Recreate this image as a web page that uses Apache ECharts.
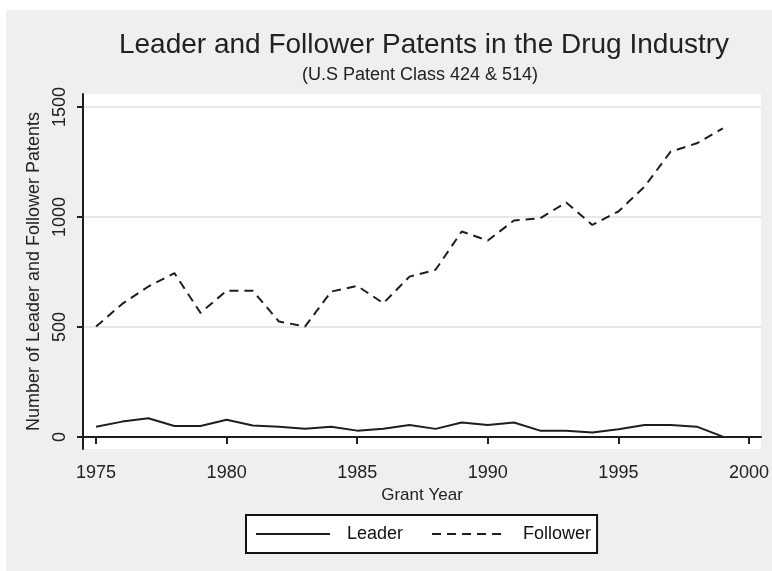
<!DOCTYPE html>
<html>
<head>
<meta charset="utf-8">
<script src="https://cdn.jsdelivr.net/npm/echarts@6/dist/echarts.min.js"></script>
<style>
    html, body { margin: 0; padding: 0; background: #fff; }
    #main { position: absolute; left: 6px; top: 10px; width: 766px; height: 561px; }
</style>
</head>
<body>
<div id="main"></div>
<script>
var years = [1975, 1976, 1977, 1978, 1979, 1980, 1981, 1982, 1983, 1984, 1985, 1986, 1987,
    1988, 1989, 1990, 1991, 1992, 1993, 1994, 1995, 1996, 1997, 1998, 1999];
var leader = [47, 70, 85, 50, 50, 78, 52, 47, 37, 47, 29, 38, 55,
    37, 66, 55, 66, 29, 29, 20, 35, 55, 55, 47, 2];
var follower = [502, 605, 684, 745, 564, 665, 665, 525, 502, 661, 687, 608, 729,
    760, 934, 893, 984, 994, 1066, 964, 1025, 1138, 1297, 1335, 1403];
var xTicks = [1975, 1980, 1985, 1990, 1995, 2000];
var yTicks = [0, 500, 1000, 1500];

(function () {
    var chart = echarts.init(document.getElementById('main'));
    var font = 'Liberation Sans';
    var ink = '#1e1e1e';

    function pairs(vals) {
        return years.map(function (y, i) { return [y, vals[i]]; });
    }
    // plain numbers, no thousands separator
    function plain(v) {
        return String(v);
    }

    var option = {
        backgroundColor: '#efefef',
        animation: false,
        graphic: [{
            type: 'text',
            x: 418,
            y: 21,
            style: {
                text: 'Leader and Follower Patents in the Drug Industry',
                font: '28px ' + font,
                fill: '#222',
                align: 'center'
            }
        }, {
            type: 'text',
            x: 414,
            y: 56,
            style: {
                text: '(U.S Patent Class 424 & 514)',
                font: '18px ' + font,
                fill: '#222',
                align: 'center'
            }
        }],
        grid: {
            left: 77,
            right: 10,
            top: 84,
            bottom: 122,
            show: true,
            backgroundColor: '#fff',
            borderWidth: 0
        },
        legend: {
            left: 240,
            top: 505,
            data: ['Leader', 'Follower'],
            backgroundColor: '#fff',
            borderColor: '#111',
            borderWidth: 2,
            padding: [10, 6, 10, 9],
            itemWidth: 74,
            itemHeight: 12,
            itemGap: 28,
            itemStyle: { opacity: 0 },
            textStyle: {
                fontFamily: font,
                fontSize: 18,
                color: '#111',
                padding: [0, 0, 0, 12]
            }
        },
        xAxis: {
            type: 'value',
            min: 1974.5,
            max: 2000.46,
            name: 'Grant Year',
            nameLocation: 'middle',
            nameGap: 32,
            nameTextStyle: { fontFamily: font, fontSize: 17, color: '#222' },
            axisLine: { lineStyle: { color: ink, width: 2 } },
            axisTick: { customValues: xTicks, length: 7, lineStyle: { color: ink, width: 2 } },
            axisLabel: {
                customValues: xTicks,
                formatter: plain,
                fontFamily: font, fontSize: 18, color: '#222', margin: 15
            },
            splitLine: { show: false }
        },
        yAxis: {
            type: 'value',
            min: -54.5,
            max: 1559,
            name: 'Number of Leader and Follower Patents',
            nameLocation: 'middle',
            nameGap: 38,
            nameTextStyle: { fontFamily: font, fontSize: 18, color: '#222' },
            axisLine: { show: true, lineStyle: { color: ink, width: 2 } },
            axisTick: { show: true, customValues: yTicks, length: 6, lineStyle: { color: ink, width: 2 } },
            axisLabel: {
                customValues: yTicks,
                formatter: plain,
                rotate: 90,
                fontFamily: font, fontSize: 18, color: '#222', margin: 14
            },
            splitLine: { show: true, lineStyle: { color: '#e8e8e8', width: 2 } }
        },
        series: [{
            name: 'Leader',
            type: 'line',
            data: pairs(leader),
            symbol: 'none',
            lineStyle: { color: ink, width: 2, type: 'solid' },
            itemStyle: { color: ink }
        }, {
            name: 'Follower',
            type: 'line',
            data: pairs(follower),
            symbol: 'none',
            lineStyle: { color: ink, width: 2, type: [9, 6] },
            itemStyle: { color: ink }
        }]
    };
    chart.setOption(option);
})();
</script>
</body>
</html>
